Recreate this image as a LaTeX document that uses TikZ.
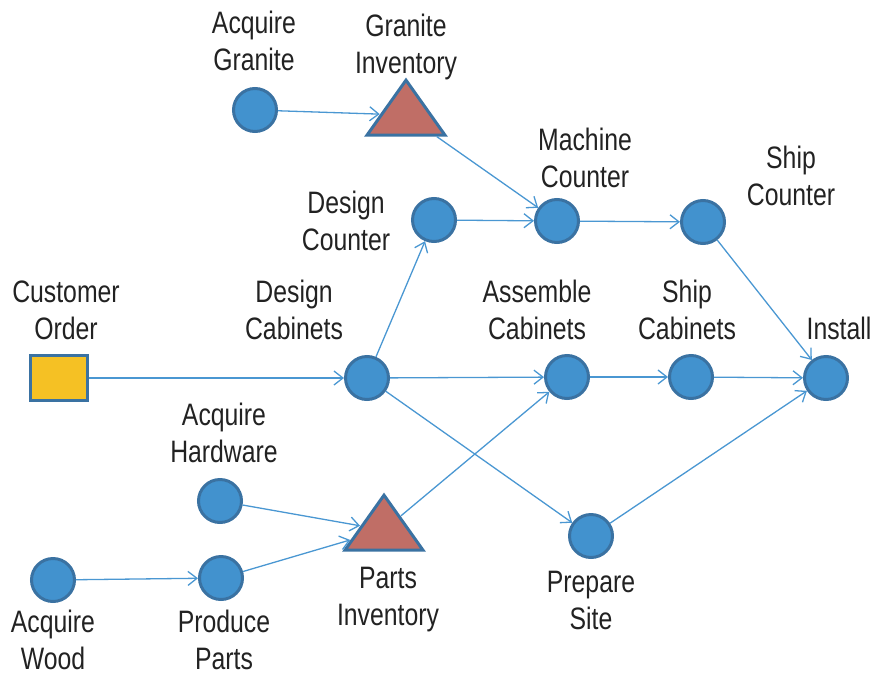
\documentclass[tikz,border=0pt]{standalone}
\usepackage{fontspec}
\setmainfont{Liberation Sans}[FakeStretch=0.8]
\usetikzlibrary{arrows.meta,shapes.geometric}
\definecolor{cfill}{HTML}{4292CE}
\definecolor{cdraw}{HTML}{3A72A2}
\definecolor{tfill}{HTML}{C06E66}
\definecolor{sfill}{HTML}{F5C124}
\definecolor{lcol}{HTML}{4A97D2}
\definecolor{tcol}{HTML}{222222}
\tikzset{
  act/.style={circle,fill=cfill,draw=cdraw,line width=3pt,minimum size=43pt,inner sep=0pt},
  inv/.style={isosceles triangle,isosceles triangle stretches,shape border rotate=90,fill=tfill,draw=cdraw,line width=3pt,minimum width=78pt,minimum height=55pt,inner sep=0pt},
  ord/.style={rectangle,fill=sfill,draw=cdraw,line width=3pt,minimum width=57pt,minimum height=45pt,inner sep=0pt},
  lbl/.style={align=center,text=tcol,font=\fontsize{31}{37}\selectfont,inner sep=0pt},
  conn/.style={draw=lcol,line width=1.3pt,-{Straight Barb[length=9pt,width=14pt,line width=1.3pt]}}
}
\begin{document}
\begin{tikzpicture}[x=1pt,y=-1pt]
\useasboundingbox (0,0) rectangle (874,677);
% nodes
\node[act] (ag) at (255,110) {};
\node[inv] (gi) at (406,115) {};
\node[act] (mc) at (557,221) {};
\node[act] (dc) at (434,220) {};
\node[act] (sc) at (703,222) {};
\node[ord] (co) at (59,378) {};
\node[act] (dcab) at (367,378) {};
\node[act] (acab) at (567,377) {};
\node[act] (scab) at (691,377) {};
\node[act] (ins) at (826,378) {};
\node[act] (ah) at (220,501) {};
\node[inv] (pi) at (384,530) {};
\node[act] (ps) at (591,536) {};
\node[act] (aw) at (53,580) {};
\node[act] (pp) at (221,578) {};
% labels
\node[lbl] (l1) at (254,41) {Acquire\\Granite};
\node[lbl] (l2) at (406,47) {Granite\\Inventory};
\node[lbl] (l3) at (585,158) {Machine\\Counter};
\node[lbl] (l4) at (791,176) {Ship\\Counter};
\node[lbl] (l5) at (346,221) {Design\\Counter};
\node[lbl] (l6) at (66,310) {Customer\\Order};
\node[lbl] (l7) at (294,310) {Design\\Cabinets};
\node[lbl] (l8) at (537,310) {Assemble\\Cabinets};
\node[lbl] (l9) at (687,310) {Ship\\Cabinets};
\node[lbl] (l10) at (839,328) {Install};
\node[lbl] (l11) at (224,433) {Acquire\\Hardware};
\node[lbl] (l12) at (388,600) {Parts\\Inventory};
\node[lbl] (l13) at (591,600) {Prepare\\Site};
\node[lbl] (l14) at (53,640) {Acquire\\Wood};
\node[lbl] (l15) at (224,640) {Produce\\Parts};
% connectors
\draw[conn] (ag) -- (gi);
\draw[conn] (gi) -- (mc);
\draw[conn] (dc) -- (mc);
\draw[conn] (mc) -- (sc);
\draw[conn] (sc) -- (ins);
\draw[conn] (co) -- (dcab);
\draw[conn] (dcab) -- (dc);
\draw[conn] (dcab) -- (acab);
\draw[conn] (dcab) -- (ps);
\draw[conn] (acab) -- (scab);
\draw[conn] (scab) -- (ins);
\draw[conn] (ps) -- (ins);
\draw[conn] (ah) -- (pi);
\draw[conn] (pp) -- (pi);
\draw[conn] (pi) -- (acab);
\draw[conn] (aw) -- (pp);
\end{tikzpicture}
\end{document}
